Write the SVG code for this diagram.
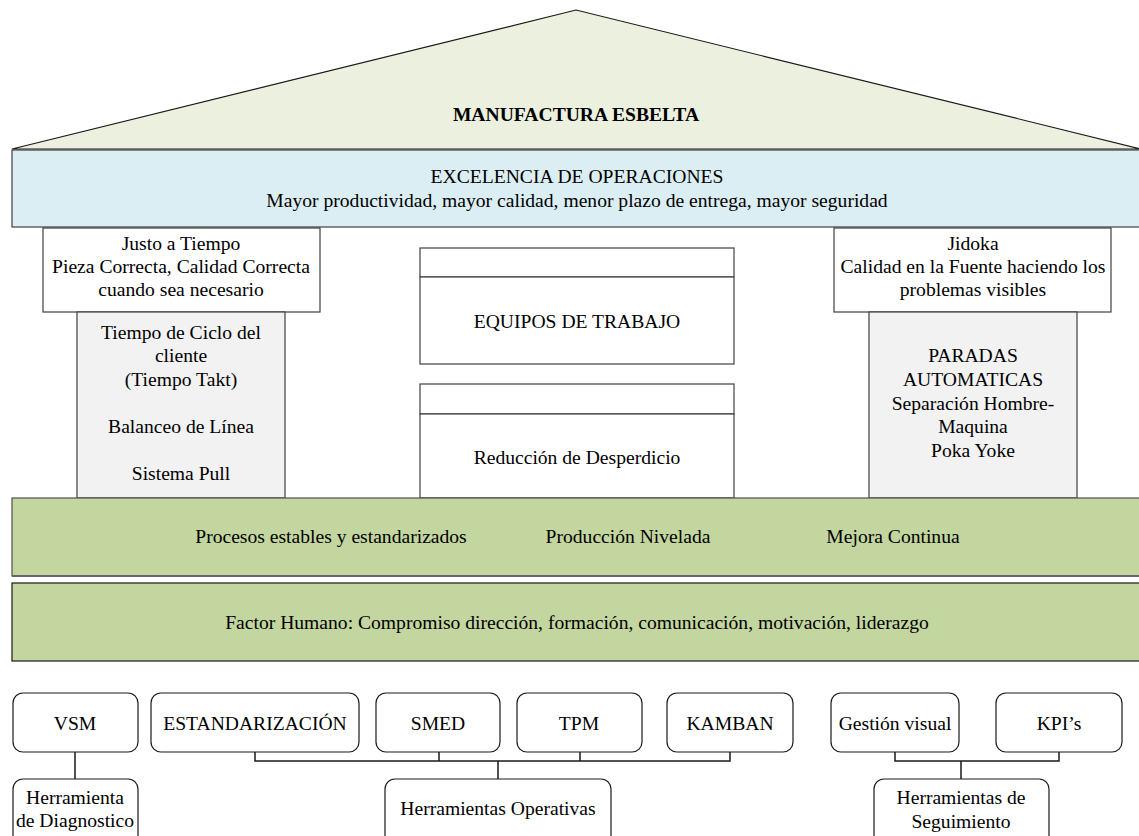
<svg xmlns="http://www.w3.org/2000/svg" width="1139" height="836" viewBox="0 0 1139 836">
<style>
text{font-family:"Liberation Serif","Times New Roman",serif;font-size:19.6px;fill:#000;text-anchor:middle}
.b{font-weight:bold}
.roof{fill:#EBF1DE;stroke:#1a1a1a;stroke-width:1.2}
.blue{fill:#DBEEF4;stroke:#404040;stroke-width:1.2}
.wh{fill:#fff;stroke:#404040;stroke-width:1.2}
.gr{fill:#F2F2F2;stroke:#404040;stroke-width:1.2}
.green{fill:#C3D69F;stroke:#505050;stroke-width:1.2}
.green2{fill:#C3D69F;stroke:#1a1a1a;stroke-width:1.2}
.tool{fill:#fff;stroke:#1a1a1a;stroke-width:1.2}
.con{fill:none;stroke:#1a1a1a;stroke-width:1.5}
</style>
<rect width="1139" height="836" fill="#fff"/>
<g id="roof">
<polygon class="roof" points="12,149 576,10 1141,149"/>
<text class="b" x="576" y="121">MANUFACTURA ESBELTA</text>
</g>
<g id="excelencia">
<rect class="blue" x="12" y="150" width="1132" height="77"/>
<text x="577" y="183">EXCELENCIA DE OPERACIONES</text>
<text x="577" y="207">Mayor productividad, mayor calidad, menor plazo de entrega, mayor seguridad</text>
</g>
<g id="jit-top">
<rect class="wh" x="43" y="228" width="277" height="84"/>
<text x="181" y="250">Justo a Tiempo</text>
<text x="181" y="273">Pieza Correcta, Calidad Correcta</text>
<text x="181" y="296">cuando sea necesario</text>
</g>
<g id="jit-col">
<rect class="gr" x="77" y="312" width="208" height="186"/>
<text x="181" y="339">Tiempo de Ciclo del</text>
<text x="181" y="362">cliente</text>
<text x="181" y="386">(Tiempo Takt)</text>
<text x="181" y="433">Balanceo de Línea</text>
<text x="181" y="480">Sistema Pull</text>
</g>
<g id="equipos">
<rect class="wh" x="420" y="248" width="314" height="29"/>
<rect class="wh" x="420" y="277" width="314" height="87"/>
<text x="577" y="328">EQUIPOS DE TRABAJO</text>
</g>
<g id="reduccion">
<rect class="wh" x="420" y="384" width="314" height="30"/>
<rect class="wh" x="420" y="414" width="314" height="84"/>
<text x="577" y="464">Reducción de Desperdicio</text>
</g>
<g id="jidoka-top">
<rect class="wh" x="834" y="228" width="277" height="84"/>
<text x="973" y="250">Jidoka</text>
<text x="973" y="273">Calidad en la Fuente haciendo los</text>
<text x="973" y="296">problemas visibles</text>
</g>
<g id="jidoka-col">
<rect class="gr" x="869" y="312" width="208" height="186"/>
<text x="973" y="362">PARADAS</text>
<text x="973" y="386">AUTOMATICAS</text>
<text x="973" y="410">Separación Hombre-</text>
<text x="973" y="433">Maquina</text>
<text x="973" y="457">Poka Yoke</text>
</g>
<g id="base1">
<rect class="green" x="12" y="498" width="1132" height="78"/>
<line x1="12" y1="576" x2="1139" y2="576" stroke="#666" stroke-width="2"/>
<text x="331" y="543">Procesos estables y estandarizados</text>
<text x="628" y="543">Producción Nivelada</text>
<text x="893" y="543">Mejora Continua</text>
</g>
<g id="base2">
<rect class="green2" x="12" y="583" width="1132" height="78"/>
<text x="577" y="629">Factor Humano: Compromiso dirección, formación, comunicación, motivación, liderazgo</text>
</g>
<g id="connectors">
<path class="con" d="M75,752 V779"/>
<path class="con" d="M255,752 V761 H730 V752 M439,752 V761 M580,752 V761 M498,761 V779"/>
<path class="con" d="M895,752 V761 H1059 V752 M961,761 V779"/>
</g>
<g id="vsm"><rect class="tool" x="13" y="693" width="125" height="59" rx="10"/><text x="75" y="730">VSM</text></g>
<g id="estandarizacion"><rect class="tool" x="151" y="693" width="208" height="59" rx="10"/><text x="255" y="730">ESTANDARIZACIÓN</text></g>
<g id="smed"><rect class="tool" x="376" y="693" width="124" height="59" rx="10"/><text x="438" y="730">SMED</text></g>
<g id="tpm"><rect class="tool" x="517" y="693" width="125" height="59" rx="10"/><text x="579" y="730">TPM</text></g>
<g id="kamban"><rect class="tool" x="667" y="693" width="126" height="59" rx="10"/><text x="730" y="730">KAMBAN</text></g>
<g id="gestion"><rect class="tool" x="831" y="693" width="128" height="59" rx="10"/><text x="895" y="730">Gestión visual</text></g>
<g id="kpis"><rect class="tool" x="996" y="693" width="126" height="59" rx="10"/><text x="1059" y="730">KPI’s</text></g>
<g id="diagnostico"><rect class="tool" x="13" y="779" width="125" height="70" rx="10"/><text x="75" y="804">Herramienta</text><text x="75" y="827">de Diagnostico</text></g>
<g id="operativas"><rect class="tool" x="385" y="779" width="226" height="70" rx="10"/><text x="498" y="815">Herramientas Operativas</text></g>
<g id="seguimiento"><rect class="tool" x="874" y="779" width="175" height="70" rx="10"/><text x="961" y="804">Herramientas de</text><text x="961" y="828">Seguimiento</text></g>
</svg>
